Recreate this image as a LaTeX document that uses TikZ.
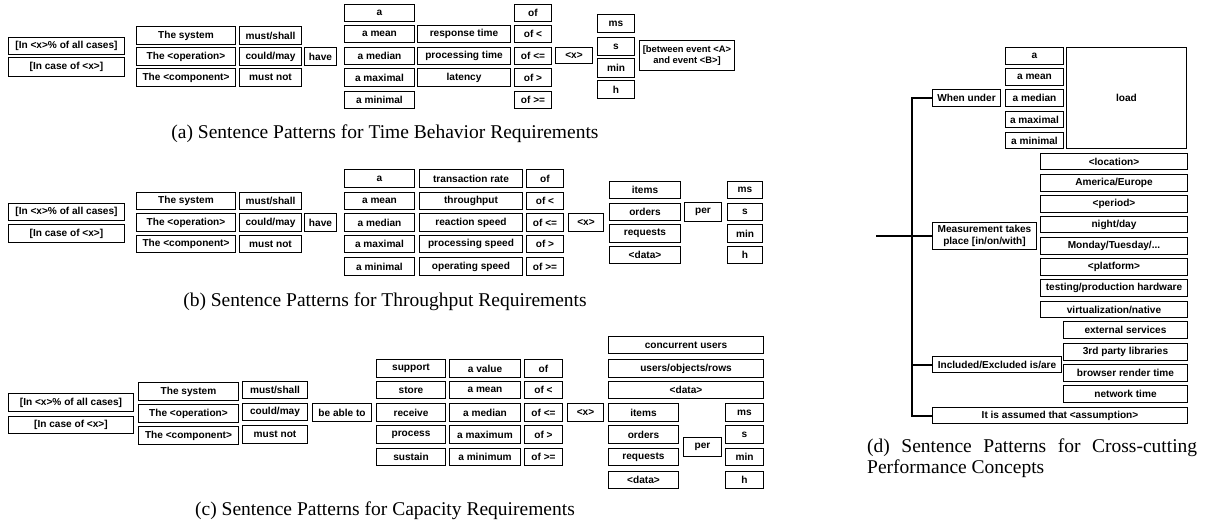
\documentclass[tikz,border=0pt]{standalone}
\usepackage{fontspec}
\setmainfont{Liberation Serif}
\newfontfamily\bxfont{Liberation Sans}
\tikzset{
 bx/.style={draw, line width=1.1pt, inner sep=0pt, outer sep=0pt, align=center, font=\bxfont\bfseries\fontsize{10.1}{11.5}\selectfont},
 capl/.style={inner sep=0pt, anchor=base west, font=\fontsize{19.5}{22}\selectfont},
 capc/.style={inner sep=0pt, anchor=base, font=\fontsize{19.5}{22}\selectfont},
 tree/.style={line width=2pt}
}
\newcommand\Bx[6]{\node[bx,minimum width={#4-#2-1.1},minimum height={#5-#3-1.1}] (#1) at ({(#2+#4)/2},{(#3+#5)/2}) {#6};}
\begin{document}
\begin{tikzpicture}[x=1pt,y=-1pt]
\useasboundingbox (0,0) rectangle (1211,525);
% ---------- (a)
\Bx{a1}{8}{37}{125}{55}{[In <x>\% of all cases]}
\Bx{a2}{8}{57}{125}{77}{[In case of <x>]}
\Bx{a3}{136}{26}{236}{45}{The system}
\Bx{a4}{136}{47}{236}{66}{The <operation>}
\Bx{a5}{136}{68}{236}{87}{The <component>}
\Bx{a6}{239}{26}{302}{45}{must/shall}
\Bx{a7}{239}{47}{302}{66}{could/may}
\Bx{a8}{239}{68}{302}{87}{must not}
\Bx{a9}{304}{47}{337}{66}{have}
\Bx{a10}{344}{4}{415}{22}{a}
\Bx{a11}{344}{25}{415}{43}{a mean}
\Bx{a12}{344}{47}{415}{65}{a median}
\Bx{a13}{344}{68}{415}{87}{a maximal}
\Bx{a14}{344}{91}{415}{109}{a minimal}
\Bx{a15}{417}{25}{511}{43}{response time}
\Bx{a16}{417}{47}{511}{65}{processing time}
\Bx{a17}{417}{68}{511}{87}{latency}
\Bx{a18}{514}{4}{552}{22}{of}
\Bx{a19}{514}{25}{552}{43}{of <}
\Bx{a20}{514}{47}{552}{65}{of <=}
\Bx{a21}{514}{68}{552}{87}{of >}
\Bx{a22}{514}{91}{552}{109}{of >=}
\Bx{a23}{555}{47}{593}{64}{<x>}
\Bx{a24}{597}{14}{635}{33}{ms}
\Bx{a25}{597}{37}{635}{56}{s}
\Bx{a26}{597}{58}{635}{78}{min}
\Bx{a27}{597}{80}{635}{99}{h}
\node[bx,minimum width=95,minimum height=30,font=\bxfont\bfseries\fontsize{9.4}{11.5}\selectfont] (a28) at (687,55.5) {[between event <A>\\ and event <B>]};
\node[capc] (capa) at (385,138) {(a) Sentence Patterns for Time Behavior Requirements};
% ---------- (b)
\Bx{b1}{8}{203}{125}{221}{[In <x>\% of all cases]}
\Bx{b2}{8}{224}{125}{243}{[In case of <x>]}
\Bx{b3}{136}{192}{236}{210}{The system}
\Bx{b4}{136}{213}{236}{232}{The <operation>}
\Bx{b5}{136}{235}{236}{253}{The <component>}
\Bx{b6}{239}{192}{302}{210}{must/shall}
\Bx{b7}{239}{213}{302}{232}{could/may}
\Bx{b8}{239}{235}{302}{253}{must not}
\Bx{b9}{304}{213}{337}{232}{have}
\Bx{b10}{344}{169}{415}{188}{a}
\Bx{b11}{344}{192}{415}{210}{a mean}
\Bx{b12}{344}{213}{415}{232}{a median}
\Bx{b13}{344}{235}{415}{253}{a maximal}
\Bx{b14}{344}{257}{415}{276}{a minimal}
\Bx{b15}{419}{169}{523}{188}{transaction rate}
\Bx{b16}{419}{192}{523}{210}{throughput}
\Bx{b17}{419}{213}{523}{232}{reaction speed}
\Bx{b18}{419}{235}{523}{253}{processing speed}
\Bx{b19}{419}{257}{523}{276}{operating speed}
\Bx{b20}{526}{169}{564}{188}{of}
\Bx{b21}{526}{192}{564}{210}{of <}
\Bx{b22}{526}{213}{564}{232}{of <=}
\Bx{b23}{526}{235}{564}{253}{of >}
\Bx{b24}{526}{257}{564}{276}{of >=}
\Bx{b25}{568}{213}{604}{232}{<x>}
\Bx{b26}{609}{181}{681}{199}{items}
\Bx{b27}{609}{203}{681}{221}{orders}
\Bx{b28}{609}{224}{681}{243}{requests}
\Bx{b29}{609}{246}{681}{264}{<data>}
\Bx{b30}{684}{202}{722}{222}{per}
\Bx{b31}{727}{181}{763}{199}{ms}
\Bx{b32}{727}{203}{763}{221}{s}
\Bx{b33}{727}{224}{763}{243}{min}
\Bx{b34}{727}{246}{763}{264}{h}
\node[capc] (capb) at (385,306) {(b) Sentence Patterns for Throughput Requirements};
% ---------- (c)
\Bx{c1}{8}{393}{134}{412}{[In <x>\% of all cases]}
\Bx{c2}{8}{416}{134}{434}{[In case of <x>]}
\Bx{c3}{138}{382}{239}{401}{The system}
\Bx{c4}{138}{404}{239}{423}{The <operation>}
\Bx{c5}{138}{426}{239}{445}{The <component>}
\Bx{c6}{242}{381}{308}{399}{must/shall}
\Bx{c7}{242}{403}{308}{421}{could/may}
\Bx{c8}{242}{425}{308}{444}{must not}
\Bx{c9}{312}{403}{372}{422}{be able to}
\Bx{c10}{376}{359}{446}{378}{support}
\Bx{c11}{376}{381}{446}{399}{store}
\Bx{c12}{376}{403}{446}{422}{receive}
\Bx{c13}{376}{425}{446}{444}{process}
\Bx{c14}{376}{448}{446}{466}{sustain}
\Bx{c15}{449}{359}{521}{378}{a value}
\Bx{c16}{449}{381}{521}{399}{a mean}
\Bx{c17}{449}{403}{521}{422}{a median}
\Bx{c18}{449}{425}{521}{444}{a maximum}
\Bx{c19}{449}{448}{521}{466}{a minimum}
\Bx{c20}{524}{359}{563}{378}{of}
\Bx{c21}{524}{381}{563}{399}{of <}
\Bx{c22}{524}{403}{563}{422}{of <=}
\Bx{c23}{524}{425}{563}{444}{of >}
\Bx{c24}{524}{448}{563}{466}{of >=}
\Bx{c25}{567}{403}{604}{422}{<x>}
\Bx{c26}{608}{336}{764}{354}{concurrent users}
\Bx{c27}{608}{359}{764}{378}{users/objects/rows}
\Bx{c28}{608}{381}{764}{399}{<data>}
\Bx{c29}{608}{403}{679}{422}{items}
\Bx{c30}{608}{425}{679}{444}{orders}
\Bx{c31}{608}{448}{679}{466}{requests}
\Bx{c32}{608}{471}{679}{489}{<data>}
\Bx{c33}{683}{437}{722}{457}{per}
\Bx{c34}{725}{403}{764}{422}{ms}
\Bx{c35}{725}{425}{764}{444}{s}
\Bx{c36}{725}{448}{764}{466}{min}
\Bx{c37}{725}{471}{764}{489}{h}
\node[capc] (capc) at (385,515) {(c) Sentence Patterns for Capacity Requirements};
% ---------- (d)
\Bx{d1}{1005}{47}{1064}{65}{a}
\Bx{d2}{1005}{68}{1064}{86}{a mean}
\Bx{d3}{1005}{89}{1064}{107}{a median}
\Bx{d4}{1005}{111}{1064}{128}{a maximal}
\Bx{d5}{1005}{132}{1064}{149}{a minimal}
\Bx{d6}{1066}{47}{1187}{149}{load}
\Bx{wu}{932}{89}{1001}{107}{When under}
\Bx{d8}{1040}{153}{1188}{170}{<location>}
\Bx{d9}{1040}{174}{1188}{192}{America/Europe}
\Bx{d10}{1040}{195}{1188}{213}{<period>}
\Bx{d11}{1040}{216}{1188}{233}{night/day}
\Bx{d12}{1040}{237}{1188}{255}{Monday/Tuesday/...}
\Bx{d13}{1040}{258}{1188}{276}{<platform>}
\Bx{d14}{1040}{279}{1188}{297}{testing/production hardware}
\Bx{d15}{1040}{301}{1188}{318}{virtualization/native}
\Bx{mt}{932}{222}{1037}{250}{Measurement takes\\ place [in/on/with]}
\Bx{d17}{1063}{321}{1188}{339}{external services}
\Bx{d18}{1063}{343}{1188}{361}{3rd party libraries}
\Bx{d19}{1063}{364}{1188}{382}{browser render time}
\Bx{d20}{1063}{385}{1188}{403}{network time}
\Bx{ie}{932}{356}{1062}{373}{Included/Excluded is/are}
\Bx{ia}{932}{407}{1188}{424}{It is assumed that <assumption>}
\coordinate (sp) at (912,0);
\coordinate (root) at (876,236);
\draw[tree] (wu.west) -- (wu.west -| sp) -- (ia.west -| sp) -- (ia.west);
\draw[tree] (root) -- (mt.west);
\draw[tree] (ie.west -| sp) -- (ie.west);
\node[capl] (capd1) at (867,452) {\makebox[330pt][s]{(d) Sentence Patterns for Cross-cutting}};
\node[capl] (capd2) at (867,473) {Performance Concepts};
\end{tikzpicture}
\end{document}
